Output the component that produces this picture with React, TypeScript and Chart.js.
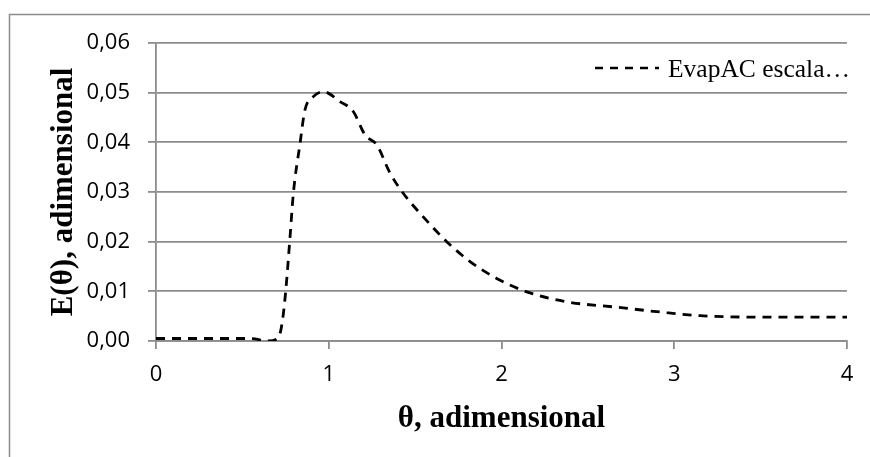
import { useEffect, useRef } from "react";
import { Chart, registerables } from "chart.js";

Chart.register(...registerables);

const thetaValues = [0, 0.55, 0.65, 0.71, 0.73, 0.75, 0.776, 0.795, 0.834, 0.862, 0.911, 0.968, 1.065, 1.142, 1.21, 1.278, 1.355, 1.432, 1.547, 1.683, 1.818, 1.972, 2.146, 2.377, 2.667, 2.956, 3.149, 3.535, 4.0];
const eValues = [0.0005, 0.0005, 0.0, 0.0008, 0.0036, 0.0097, 0.021, 0.0297, 0.0398, 0.0465, 0.0492, 0.0502, 0.0482, 0.0462, 0.0415, 0.0395, 0.0338, 0.0297, 0.025, 0.02, 0.016, 0.0126, 0.0099, 0.0079, 0.0068, 0.0057, 0.0051, 0.0048, 0.0048];
const seriesLabel = "EvapAC escala…";
const xTitle = "θ, adimensional";
const yTitle = "E(θ), adimensional";

const GRID = "#8c8c8c";

export default function App() {
  const ref = useRef<HTMLCanvasElement | null>(null);

  useEffect(() => {
    document.body.style.margin = "0";
    const canvas = ref.current;
    if (!canvas) return;

    const decor = {
      id: "decor",
      beforeDraw(chart: any) {
        const ctx = chart.ctx;
        ctx.save();
        ctx.strokeStyle = GRID;
        ctx.lineWidth = 1.5;
        ctx.beginPath();
        ctx.moveTo(9.5, 457);
        ctx.lineTo(9.5, 14.5);
        ctx.lineTo(870, 14.5);
        ctx.stroke();
        ctx.restore();
      },
      afterDraw(chart: any) {
        const ctx = chart.ctx;
        const area = chart.chartArea;
        ctx.save();
        ctx.fillStyle = "#000";
        ctx.font = "bold 31px 'Liberation Serif', 'Times New Roman', serif";
        ctx.textAlign = "center";
        ctx.textBaseline = "alphabetic";
        ctx.fillText(xTitle, (area.left + area.right) / 2, 427);
        ctx.save();
        ctx.translate(72, (area.top + area.bottom) / 2);
        ctx.rotate(-Math.PI / 2);
        ctx.fillText(yTitle, 0, 0);
        ctx.restore();

        // legend
        const ds = chart.data.datasets[0];
        ctx.strokeStyle = ds.borderColor;
        ctx.lineWidth = 2.6;
        ctx.setLineDash([8, 7]);
        ctx.beginPath();
        ctx.moveTo(595, 68);
        ctx.lineTo(659, 68);
        ctx.stroke();
        ctx.setLineDash([]);
        ctx.font = "25.5px 'Liberation Serif', 'Times New Roman', serif";
        ctx.textAlign = "left";
        ctx.fillText(ds.label, 668, 77);
        ctx.restore();
      },
    };

    const chart = new Chart(canvas, {
      type: "scatter",
      data: {
        datasets: [
          {
            label: seriesLabel,
            data: thetaValues.map((x, i) => ({ x, y: eValues[i] })),
            showLine: true,
            borderColor: "#000000",
            borderWidth: 2.8,
            borderDash: [9, 7],
            pointRadius: 0,
            cubicInterpolationMode: "monotone",
            fill: false,
          },
        ],
      },
      options: {
        responsive: false,
        animation: false,
        layout: { padding: { top: 43, right: 23, left: 0, bottom: 0 } },
        plugins: { legend: { display: false }, tooltip: { enabled: false } },
        scales: {
          x: {
            type: "linear",
            min: 0,
            max: 4,
            afterFit: (s: any) => {
              s.height = 116;
            },
            ticks: {
              stepSize: 1,
              padding: 13,
              color: "#000",
              font: { family: "'Open Sans', sans-serif", size: 22 },
            },
            grid: {
              drawOnChartArea: false,
              drawTicks: true,
              tickLength: 8,
              color: GRID,
              lineWidth: 1.8,
            },
            border: { display: true, color: GRID, width: 1.8 },
          },
          y: {
            min: 0,
            max: 0.06,
            afterFit: (s: any) => {
              s.width = 156;
            },
            ticks: {
              stepSize: 0.01,
              padding: 18,
              color: "#000",
              font: { family: "'Open Sans', sans-serif", size: 22 },
              callback: (v: any) => Number(v).toFixed(2).replace(".", ","),
            },
            grid: {
              drawTicks: true,
              tickLength: 8,
              color: GRID,
              lineWidth: 1.8,
            },
            border: { display: true, color: GRID, width: 1.8 },
          },
        },
      },
      plugins: [decor],
    });

    return () => chart.destroy();
  }, []);

  return (
    <div style={{ width: 870, height: 457, background: "#fff" }}>
      <canvas ref={ref} width={870} height={457} style={{ display: "block" }} />
    </div>
  );
}
